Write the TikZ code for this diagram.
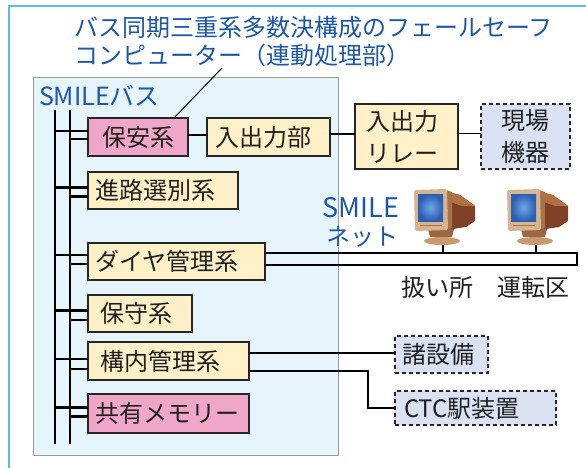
\documentclass[tikz,border=0pt]{standalone}
\usepackage{fontspec}
\setmainfont{Noto Sans CJK JP}
\usetikzlibrary{calc}
\definecolor{framec}{HTML}{63B8E8}
\definecolor{panelc}{HTML}{E6F4FC}
\definecolor{panelb}{HTML}{9A9A9A}
\definecolor{pinkc}{HTML}{F0A6C6}
\definecolor{beigec}{HTML}{FFF0C8}
\definecolor{lavc}{HTML}{D9E1F2}
\definecolor{bluetxt}{HTML}{1B57A6}
\definecolor{brownD}{HTML}{7E4128}
\definecolor{brownL}{HTML}{B0703F}
\definecolor{bezelc}{HTML}{D6B48F}
\definecolor{bezelS}{HTML}{A8734A}
\definecolor{neckc}{HTML}{9C6644}
\definecolor{basec}{HTML}{C99A6E}
\definecolor{scrL}{HTML}{6FA6E6}
\definecolor{scrD}{HTML}{2C5FB0}
\begin{document}
\begin{tikzpicture}[x=1pt,y=-1pt,
  bx/.style={draw=black!85, line width=1.2pt, anchor=north west, inner ysep=0pt, outer sep=0pt,
    text=black!88, font=\fontsize{24}{30}\selectfont, align=left, text height=21pt, text depth=3pt},
  bx2/.style={draw=black!85, line width=1.2pt, anchor=north west, inner ysep=0pt, outer sep=0pt,
    text=black!88, font=\fontsize{24}{32}\selectfont},
  dash box/.style={dash pattern=on 4pt off 3pt, fill=lavc},
  bus/.style={line width=2.7pt, black},
  conn/.style={line width=2.5pt, black},
  link/.style={line width=1.9pt, black},
  bluetext/.style={text=bluetxt, inner sep=0pt, outer sep=0pt},
  plaintext/.style={text=black!88, inner sep=0pt, font=\fontsize{24}{28}\selectfont},
  monitor/.pic={
    \fill[brownD] (30,2) -- (46,6) -- (61,17) -- (61,32) -- (52,38) -- (32,41) -- cycle;
    \fill[brownL] (30,2) -- (46,6) -- (61,17) -- (48,17) -- (34,12) -- cycle;
    \fill[bezelS] (32,1) -- (38,3) -- (38,39) -- (32,41) -- cycle;
    \fill[neckc] (14,40) -- (40,40) -- (38,48) -- (16,48) -- cycle;
    \fill[basec] (28,52) ellipse [x radius=18, y radius=4];
    \fill[bezelc, rounded corners=1.5pt] (0,1) -- (33,0) -- (34,41) -- (1,42) -- cycle;
    \shade[inner color=scrL, outer color=scrD] (4,5) rectangle (29,32);
    \draw[bezelS, line width=.6pt] (6,36) -- (28,36);
  }]
\useasboundingbox (0,0) rectangle (586,467);
% outer frame and panel
\draw[framec, line width=1.6pt] (9,480) -- (9,6) -- (600,6);
\draw[fill=panelc, draw=panelb, line width=1pt] (33,77) rectangle (338,455);

% title
\node[bluetext, anchor=base west, font=\fontsize{24}{28}\selectfont] (title1) at (74,36) {バス同期三重系多数決構成のフェールセーフ};
\node[bluetext, anchor=base west, font=\fontsize{24}{28}\selectfont] (title2) at (74,64) {コンピューター（連動処理部）};
\node[bluetext, anchor=base west, font=\fontsize{25}{28}\selectfont] (busname) at (39,105) {SMILEバス};
\node[bluetext, anchor=base, font=\fontsize{27}{28}\selectfont] (net1) at (361,217) {SMILE};
\node[bluetext, anchor=base, font=\fontsize{24}{28}\selectfont] (net2) at (362,245) {ネット};

% boxes
\node[bx, fill=pinkc, align=center, inner xsep=7pt, text width=86pt, minimum height=38pt] (hoan) at (88,118) {保安系};
\node[bx, fill=beigec, inner xsep=8pt, text width=107pt, minimum height=38pt] (nyu) at (207,118) {入出力部};
\node[bx2, fill=beigec, align=left, inner xsep=11pt, text width=81pt, minimum height=65pt] (relay) at (355,104) {入出力\\リレー};
\node[bx2, dash box, align=center, inner xsep=7pt, text width=75pt, minimum height=65pt] (genba) at (481,104) {現場\\機器};
\node[bx, fill=beigec, inner xsep=7pt, text width=136pt, minimum height=37pt] (shinro) at (88,172) {進路選別系};
\node[bx, fill=beigec, inner xsep=7pt, text width=163pt, minimum height=37pt] (daiya) at (88,243) {ダイヤ管理系};
\node[bx, fill=beigec, inner xsep=12pt, text width=80pt, minimum height=37pt] (hoshu) at (88,295) {保守系};
\node[bx, fill=beigec, inner xsep=12pt, text width=137pt, minimum height=38pt] (kounai) at (88,342) {構内管理系};
\node[bx, fill=pinkc, inner xsep=7pt, text width=147pt, minimum height=39pt] (kyoyu) at (88,394) {共有メモリー};
\node[bx, dash box, inner xsep=7pt, text width=79pt, minimum height=37pt] (shosetsu) at (395,336) {諸設備};
\node[bx, dash box, inner xsep=9pt, text width=143pt, minimum height=34pt] (ctc) at (395,391) {CTC駅装置};

% bus
\coordinate (busAtop) at (55,110);
\coordinate (busAbot) at (55,444);
\coordinate (busBtop) at (70,110);
\coordinate (busBbot) at (70,444);
\draw[bus] (busAtop) -- (busAbot);
\draw[bus] (busBtop) -- (busBbot);

% bus connections (upper from outer bus, lower from inner bus)
\foreach \n/\u/\l in {hoan/-6/2, shinro/-3/6, daiya/-6.5/2.5, hoshu/-3/6.5, kounai/-2/8, kyoyu/-6/3}{
  \draw[conn] ($(\n.west)+(0,\u)$) -- ($(\n.west -| busAtop)+(0,\u)$);
  \draw[conn] ($(\n.west)+(0,\l)$) -- ($(\n.west -| busBtop)+(0,\l)$);
}

% horizontal links
\draw[link] ($(hoan.east)+(0,-2)$) -- ($(hoan.east -| nyu.west)+(0,-2)$);
\draw[link] ($(nyu.east)+(0,-3)$) -- ($(nyu.east -| relay.west)+(0,-3)$);
\draw[link] ($(relay.east)+(0,-3)$) -- ($(genba.west)+(0,-3)$);
\draw[link] ($(kounai.east)+(0,-8)$) -- ($(kounai.east -| shosetsu.west)+(0,-8)$);
\draw[link] ($(kounai.east)+(0,10)$) -| ($(ctc.west)+(-27,0)$) -- (ctc.west);

% SMILE net bar
\coordinate (netTR) at (577,253);
\coordinate (netBR) at (577,265);
\draw[link, line join=miter] ($(daiya.east)+(0,-8.5)$) -- (netTR) -- (netBR) -- ($(daiya.east)+(0,3.5)$);

% monitors
\pic at (414,189) {monitor};
\pic at (507,189) {monitor};
\coordinate (m1) at (443,245);
\coordinate (m2) at (536,245);
\draw[line width=1.5pt] (m1) -- (m1 |- netTR);
\draw[line width=1.5pt] (m2) -- (m2 |- netTR);
\node[plaintext, anchor=base] (atsukai) at (437,296) {扱い所};
\node[plaintext, anchor=base] (unten) at (533,296) {運転区};

% pointer
\coordinate (ptrTop) at (222,68);
\draw[line width=1pt] (ptrTop) -- ($(hoan.north)+(36,0)$);
\end{tikzpicture}
\end{document}
